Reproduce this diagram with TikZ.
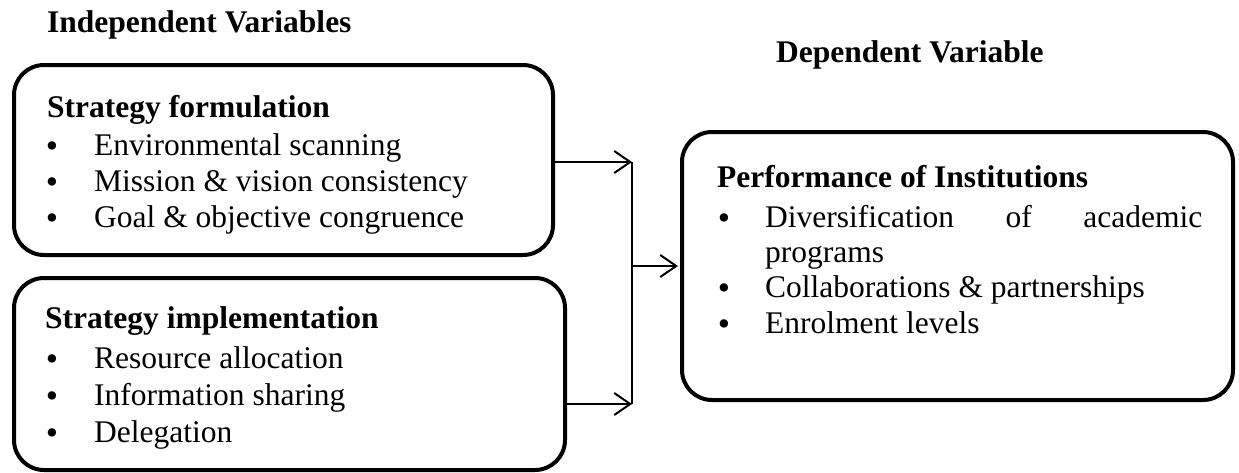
\documentclass[tikz,border=0pt]{standalone}
\usepackage{fontspec}
\setmainfont{Liberation Serif}
\usetikzlibrary{arrows.meta}
\begin{document}
\begin{tikzpicture}[x=1pt,y=-1pt,
  box/.style={draw, line width=4pt, rounded corners=30pt, inner sep=0pt},
  conn/.style={line width=2pt},
  arr/.style={conn, -{Straight Barb[length=16pt,width=22pt,line width=2pt]}},
  txt/.style={anchor=base west, inner sep=0pt, font=\fontsize{31.5}{36}\selectfont},
  hd/.style={txt, font=\fontsize{31.5}{36}\selectfont\bfseries},
  bul/.style={anchor=base, inner sep=0pt, yshift=-2pt, font=\fontsize{35}{35}\selectfont}]
\useasboundingbox (0,0) rectangle (1239,472);

% boxes
\node[box, minimum width=539pt, minimum height=190pt] (f) at (283.5,160) {};
\node[box, minimum width=551pt, minimum height=192pt] (i) at (289.5,374) {};
\node[box, minimum width=551pt, minimum height=268pt] (d) at (957.5,266) {};

% titles
\node[hd] (ti) at (47,32) {Independent Variables};
\node[hd] (td) at (776,62) {Dependent Variable};

% box 1
\node[hd] (f0) at (47,117) {Strategy formulation};
\node[bul] (f1b) at (52,155) {\smash{•}};
\node[txt] (f1) at (94,155) {Environmental scanning};
\node[bul] (f2b) at (52,191) {\smash{•}};
\node[txt] (f2) at (94,191) {Mission \& vision consistency};
\node[bul] (f3b) at (52,227) {\smash{•}};
\node[txt] (f3) at (94,227) {Goal \& objective congruence};

% box 2
\node[hd] (i0) at (45,328) {Strategy implementation};
\node[bul] (i1b) at (52,368) {\smash{•}};
\node[txt] (i1) at (94,368) {Resource allocation};
\node[bul] (i2b) at (52,405) {\smash{•}};
\node[txt] (i2) at (94,405) {Information sharing};
\node[bul] (i3b) at (52,442) {\smash{•}};
\node[txt] (i3) at (94,442) {Delegation};

% dependent box
\node[hd] (d0) at (717,187) {Performance of Institutions};
\node[bul] (d1b) at (724,227) {\smash{•}};
\node[txt] (d1) at (765,227) {\makebox[437pt][s]{Diversification of academic}};
\node[txt] (d1c) at (765,262) {programs};
\node[bul] (d2b) at (724,297) {\smash{•}};
\node[txt] (d2) at (765,297) {Collaborations \& partnerships};
\node[bul] (d3b) at (724,333) {\smash{•}};
\node[txt] (d3) at (765,333) {Enrolment levels};

% connectors
\coordinate (j1) at (632,162);
\coordinate (j2) at (632,404);
\coordinate (jm) at (632,266);
\draw[arr] (f.east |- j1) -- (j1);
\draw[arr] (i.east |- j2) -- (j2);
\draw[conn] (j1) -- (j2);
\draw[arr, shorten >=2pt] (jm) -- (d.west);
\end{tikzpicture}
\end{document}
